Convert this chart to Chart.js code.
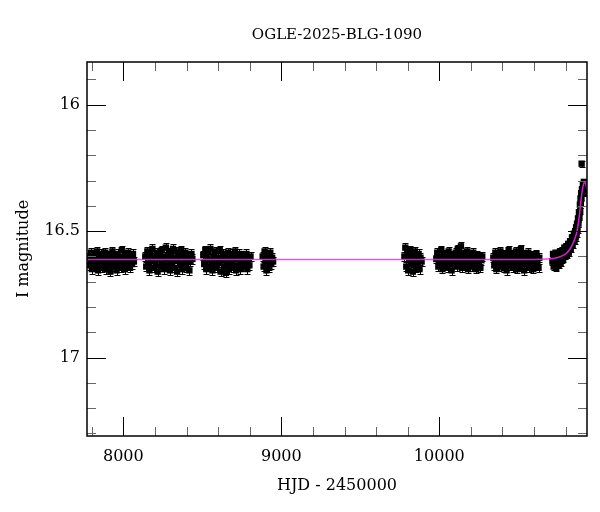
<!DOCTYPE html>
<html>
<head>
<meta charset="utf-8">
<script src="https://cdn.jsdelivr.net/npm/chart.js@4.4.1/dist/chart.umd.min.js"></script>
<style>
html, body { margin: 0; padding: 0; background: #fff; }
#wrap { width: 600px; height: 512px; }
</style>
</head>
<body>
<div id="wrap"><canvas id="lc"></canvas></div>
<script>
// axis ranges and ticks
var xMin = 7770, xMax = 10935;
var yMin = 15.831, yMax = 17.31;
var xMajorTicks = [8000, 9000, 10000];
var xMinorTicks = [7800, 8200, 8400, 8600, 8800, 9200, 9400, 9600, 9800, 10200, 10400, 10600, 10800];
var yMajorTicks = [16, 16.5, 17];
var yMinorTicks = [15.9, 16.1, 16.2, 16.3, 16.4, 16.6, 16.7, 16.8, 16.9, 17.1, 17.2, 17.3];

// photometry, one pair of arrays per season (HJD - 2450000, I mag)
var hjd1 = [7782, 7788, 7795, 7801, 7808, 7814, 7821, 7827, 7834, 7840, 7847, 7853, 7860, 7866, 7873, 7879, 7886, 7892, 7899, 7905, 7912, 7918, 7925, 7931, 7938, 7944, 7951, 7957, 7964, 7970, 7977, 7983, 7990, 7996, 8003, 8009, 8016, 8022, 8029, 8035, 8042, 8048, 8055, 8061, 8067];
var mag1 = [16.605, 16.635, 16.585, 16.650, 16.615, 16.595, 16.640, 16.620, 16.580, 16.655, 16.600, 16.630, 16.590, 16.645, 16.610, 16.625, 16.585, 16.650, 16.605, 16.635, 16.595, 16.660, 16.615, 16.580, 16.640, 16.620, 16.600, 16.655, 16.590, 16.630, 16.610, 16.645, 16.575, 16.625, 16.605, 16.650, 16.595, 16.635, 16.585, 16.615, 16.645, 16.600, 16.630, 16.590, 16.620];

var hjd2 = [8139, 8145, 8152, 8158, 8165, 8171, 8178, 8184, 8191, 8197, 8204, 8210, 8217, 8223, 8230, 8236, 8243, 8249, 8256, 8262, 8269, 8275, 8282, 8288, 8295, 8301, 8308, 8314, 8321, 8327, 8334, 8340, 8347, 8353, 8360, 8366, 8373, 8379, 8386, 8392, 8399, 8405, 8412, 8418, 8425, 8431, 8437];
var mag2 = [16.600, 16.640, 16.580, 16.625, 16.655, 16.595, 16.615, 16.570, 16.645, 16.605, 16.630, 16.585, 16.660, 16.610, 16.590, 16.640, 16.575, 16.620, 16.650, 16.600, 16.565, 16.635, 16.610, 16.585, 16.655, 16.595, 16.625, 16.570, 16.645, 16.605, 16.580, 16.660, 16.615, 16.590, 16.635, 16.575, 16.650, 16.600, 16.625, 16.585, 16.645, 16.610, 16.595, 16.655, 16.620, 16.590, 16.610];

var hjd3 = [8506, 8512, 8519, 8525, 8532, 8538, 8545, 8551, 8558, 8564, 8571, 8577, 8584, 8590, 8597, 8603, 8610, 8616, 8623, 8629, 8636, 8642, 8649, 8655, 8662, 8668, 8675, 8681, 8688, 8694, 8701, 8707, 8714, 8720, 8727, 8733, 8740, 8746, 8753, 8759, 8766, 8772, 8779, 8785, 8792, 8798, 8805];
var mag3 = [16.595, 16.630, 16.575, 16.650, 16.610, 16.585, 16.640, 16.570, 16.620, 16.655, 16.600, 16.635, 16.580, 16.645, 16.605, 16.625, 16.575, 16.660, 16.615, 16.590, 16.640, 16.600, 16.665, 16.620, 16.585, 16.650, 16.605, 16.630, 16.590, 16.645, 16.610, 16.580, 16.655, 16.600, 16.635, 16.590, 16.650, 16.615, 16.595, 16.640, 16.605, 16.625, 16.590, 16.650, 16.610, 16.635, 16.600];

var hjd4 = [8882, 8888, 8894, 8900, 8906, 8912, 8918, 8924, 8930, 8936, 8942, 8948];
var mag4 = [16.600, 16.640, 16.580, 16.625, 16.655, 16.595, 16.615, 16.645, 16.585, 16.630, 16.605, 16.620];

var hjd5 = [9779, 9785, 9791, 9797, 9803, 9809, 9815, 9821, 9827, 9833, 9839, 9845, 9851, 9857, 9863, 9869, 9875, 9881, 9888];
var mag5 = [16.600, 16.565, 16.640, 16.585, 16.655, 16.615, 16.575, 16.630, 16.595, 16.660, 16.610, 16.580, 16.645, 16.600, 16.625, 16.590, 16.650, 16.605, 16.620];

var hjd6 = [9981, 9987, 9994, 10000, 10007, 10013, 10020, 10026, 10033, 10039, 10046, 10052, 10059, 10065, 10072, 10078, 10085, 10091, 10098, 10104, 10111, 10117, 10124, 10130, 10137, 10143, 10150, 10156, 10163, 10169, 10176, 10182, 10189, 10195, 10202, 10208, 10215, 10221, 10228, 10234, 10241, 10247, 10254, 10260, 10267, 10272];
var mag6 = [16.610, 16.585, 16.640, 16.600, 16.625, 16.575, 16.650, 16.615, 16.590, 16.635, 16.605, 16.645, 16.580, 16.620, 16.600, 16.655, 16.595, 16.630, 16.610, 16.585, 16.640, 16.570, 16.620, 16.600, 16.560, 16.645, 16.610, 16.590, 16.635, 16.615, 16.580, 16.650, 16.605, 16.625, 16.595, 16.640, 16.585, 16.620, 16.610, 16.650, 16.595, 16.630, 16.605, 16.645, 16.615, 16.600];

var hjd7 = [10342, 10348, 10355, 10361, 10368, 10374, 10381, 10387, 10394, 10400, 10407, 10413, 10420, 10426, 10433, 10439, 10446, 10452, 10459, 10465, 10472, 10478, 10485, 10491, 10498, 10504, 10511, 10517, 10524, 10530, 10537, 10543, 10550, 10556, 10563, 10569, 10576, 10582, 10589, 10595, 10602, 10608, 10615, 10621, 10628, 10633];
var mag7 = [16.605, 16.635, 16.585, 16.650, 16.615, 16.595, 16.640, 16.580, 16.625, 16.600, 16.645, 16.590, 16.620, 16.655, 16.605, 16.575, 16.635, 16.610, 16.590, 16.645, 16.600, 16.625, 16.580, 16.650, 16.615, 16.595, 16.640, 16.570, 16.620, 16.605, 16.655, 16.590, 16.630, 16.610, 16.585, 16.645, 16.600, 16.625, 16.595, 16.650, 16.610, 16.635, 16.590, 16.620, 16.645, 16.605];

// 2025 season, the event
var hjd8 = [10716, 10720, 10724, 10728, 10732, 10736, 10740, 10744, 10748, 10752, 10756, 10760, 10764, 10768, 10772, 10776, 10780, 10784, 10788, 10792, 10796, 10800, 10804, 10808, 10812, 10816, 10820, 10824, 10828, 10832, 10836, 10840, 10844, 10848, 10852, 10856, 10860, 10863, 10866, 10869, 10872, 10875, 10878, 10881, 10884, 10887, 10890, 10892, 10894, 10896, 10898, 10900, 10901, 10903, 10906, 10909, 10912, 10915, 10918, 10921, 10924, 10927, 10930, 10933];
var mag8 = [16.620, 16.590, 16.640, 16.605, 16.630, 16.585, 16.645, 16.600, 16.620, 16.590, 16.635, 16.605, 16.580, 16.625, 16.595, 16.615, 16.575, 16.610, 16.590, 16.565, 16.600, 16.580, 16.560, 16.595, 16.570, 16.550, 16.585, 16.555, 16.540, 16.570, 16.545, 16.525, 16.555, 16.530, 16.510, 16.540, 16.500, 16.525, 16.485, 16.510, 16.470, 16.495, 16.450, 16.470, 16.425, 16.445, 16.395, 16.420, 16.370, 16.390, 16.350, 16.365, 16.233, 16.335, 16.350, 16.315, 16.335, 16.305, 16.325, 16.345, 16.310, 16.330, 16.350, 16.320];

var seasonErr = [0.018, 0.018, 0.018, 0.018, 0.018, 0.017, 0.017, 0.012];

// PSPL model curve
var modelHjd = [7770, 10600, 10700, 10750, 10790, 10815, 10835, 10855, 10870, 10880, 10888, 10895, 10902, 10910, 10917, 10922, 10928, 10935];
var modelMag = [16.612, 16.612, 16.609, 16.604, 16.594, 16.580, 16.562, 16.535, 16.505, 16.470, 16.430, 16.390, 16.352, 16.322, 16.308, 16.306, 16.315, 16.335];

var seasons = [[hjd1, mag1], [hjd2, mag2], [hjd3, mag3], [hjd4, mag4], [hjd5, mag5], [hjd6, mag6], [hjd7, mag7], [hjd8, mag8]];
var points = [], errs = [];
seasons.forEach(function (s, k) {
  var n = Math.min(s[0].length, s[1].length);
  for (var i = 0; i < n; i++) {
    points.push({ x: s[0][i], y: s[1][i] });
    errs.push(seasonErr[k]);
  }
});
var model = modelHjd.map(function (t, i) { return { x: t, y: modelMag[i] }; });

var serif = 'DejaVu Serif';

var errorBars = {
  id: 'errorBars',
  beforeDatasetsDraw: function (chart) {
    var ctx = chart.ctx, a = chart.chartArea, x = chart.scales.x, y = chart.scales.y;
    ctx.save();
    ctx.beginPath();
    ctx.rect(a.left, a.top, a.right - a.left, a.bottom - a.top);
    ctx.clip();
    ctx.strokeStyle = '#000';
    ctx.lineWidth = 1;
    chart.data.datasets.forEach(function (ds) {
      if (!ds.errors) return;
      ds.data.forEach(function (p, i) {
        var e = ds.errors[i];
        var px = Math.round(x.getPixelForValue(p.x)) + 0.5;
        var y1 = Math.round(y.getPixelForValue(p.y - e)) + 0.5;
        var y2 = Math.round(y.getPixelForValue(p.y + e)) + 0.5;
        ctx.beginPath();
        ctx.moveTo(px, y1); ctx.lineTo(px, y2);
        ctx.moveTo(px - 3, y1); ctx.lineTo(px + 3, y1);
        ctx.moveTo(px - 3, y2); ctx.lineTo(px + 3, y2);
        ctx.stroke();
      });
    });
    ctx.restore();
  }
};

var frameTicks = {
  id: 'frameTicks',
  afterDraw: function (chart) {
    var ctx = chart.ctx, a = chart.chartArea, x = chart.scales.x, y = chart.scales.y;
    function seg(x1, y1, x2, y2) {
      ctx.beginPath(); ctx.moveTo(x1, y1); ctx.lineTo(x2, y2); ctx.stroke();
    }
    function xTicks(vals, len) {
      vals.forEach(function (v) {
        var p = Math.round(x.getPixelForValue(v)) + 0.5;
        seg(p, a.bottom, p, a.bottom - len);
        seg(p, a.top, p, a.top + len);
      });
    }
    function yTicks(vals, len) {
      vals.forEach(function (v) {
        var p = Math.round(y.getPixelForValue(v)) + 0.5;
        seg(a.left, p, a.left + len, p);
        seg(a.right, p, a.right - len, p);
      });
    }
    ctx.save();
    ctx.lineWidth = 1;
    ctx.strokeStyle = '#666';
    xTicks(xMinorTicks, 9);
    yTicks(yMinorTicks, 9);
    ctx.strokeStyle = '#000';
    xTicks(xMajorTicks, 19);
    yTicks(yMajorTicks, 19);
    ctx.lineWidth = 1.5;
    ctx.strokeRect(a.left, a.top, a.right - a.left, a.bottom - a.top);
    ctx.restore();
  }
};

new Chart(document.getElementById('lc'), {
  type: 'scatter',
  data: {
    datasets: [
      {
        label: 'model',
        data: model,
        showLine: true,
        borderColor: 'rgba(255, 30, 255, 0.85)',
        borderWidth: 1.5,
        pointRadius: 0,
        cubicInterpolationMode: 'monotone',
        order: 1
      },
      {
        label: 'OGLE I',
        data: points,
        errors: errs,
        pointStyle: 'rect',
        pointRadius: 4.5,
        backgroundColor: '#000',
        borderWidth: 0,
        order: 2
      }
    ]
  },
  options: {
    responsive: true,
    maintainAspectRatio: false,
    animation: false,
    devicePixelRatio: 1,
    layout: { padding: { left: 0, right: 13, top: 0, bottom: 0 } },
    plugins: {
      legend: { display: false },
      tooltip: { enabled: false },
      title: {
        display: true,
        text: 'OGLE-2025-BLG-1090',
        fullSize: false,
        color: '#000',
        font: { family: serif, size: 15, weight: 'normal' },
        padding: { top: 26, bottom: 18 }
      }
    },
    scales: {
      x: {
        type: 'linear',
        min: xMin,
        max: xMax,
        afterBuildTicks: function (s) { s.ticks = xMajorTicks.map(function (v) { return { value: v }; }); },
        afterFit: function (s) { s.height = 76; },
        grid: { display: false, drawTicks: false },
        border: { display: false },
        ticks: {
          color: '#000',
          font: { family: serif, size: 16 },
          padding: 11,
          maxRotation: 0,
          autoSkip: false,
          callback: function (v) { return String(v); }
        },
        title: {
          display: true,
          text: 'HJD - 2450000',
          color: '#000',
          font: { family: serif, size: 16 },
          padding: { top: 0, bottom: 17 }
        }
      },
      y: {
        type: 'linear',
        reverse: true,
        min: yMin,
        max: yMax,
        afterBuildTicks: function (s) { s.ticks = yMajorTicks.map(function (v) { return { value: v }; }); },
        afterFit: function (s) { s.width = 87; },
        grid: { display: false, drawTicks: false },
        border: { display: false },
        ticks: {
          color: '#000',
          font: { family: serif, size: 16 },
          padding: 7,
          autoSkip: false,
          callback: function (v) { return String(v); }
        },
        title: {
          display: true,
          text: 'I magnitude',
          color: '#000',
          font: { family: serif, size: 16 },
          padding: { top: 14, bottom: 0 }
        }
      }
    }
  },
  plugins: [errorBars, frameTicks]
});
</script>
</body>
</html>
